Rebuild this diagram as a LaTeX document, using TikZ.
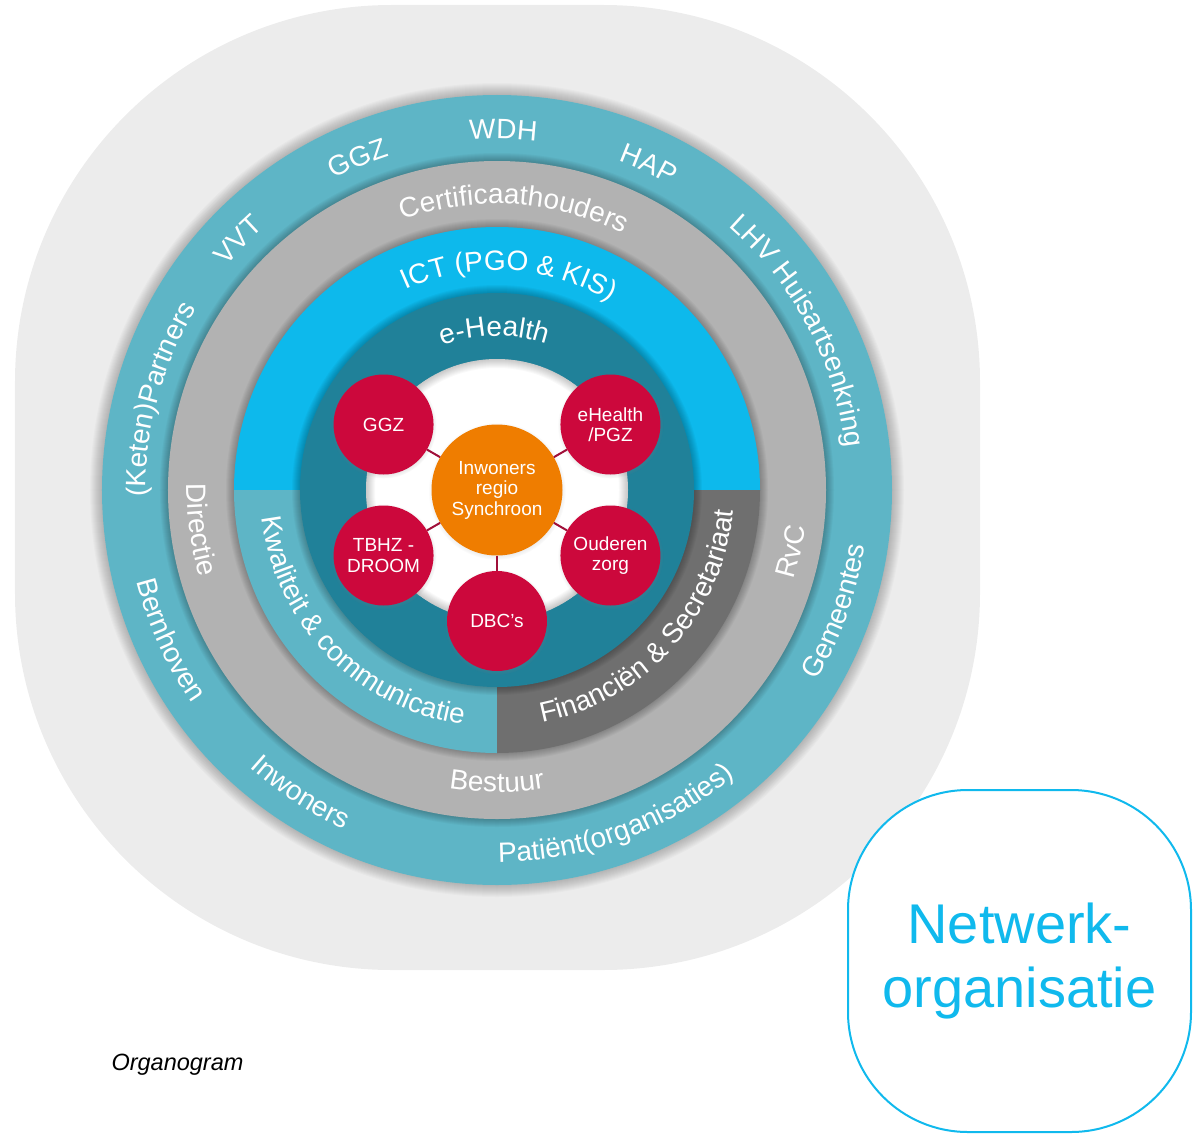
\documentclass[tikz,border=0pt]{standalone}
\usepackage{fontspec}
\setmainfont{Liberation Sans}
\usetikzlibrary{decorations.text,shadows}
\definecolor{tealring}{RGB}{94,181,198}
\definecolor{grayring}{RGB}{178,178,178}
\definecolor{ictblue}{RGB}{13,185,236}
\definecolor{darkteal}{RGB}{32,129,153}
\definecolor{fingray}{RGB}{111,111,111}
\definecolor{crimson}{RGB}{204,8,60}
\definecolor{orangec}{RGB}{239,125,0}
\definecolor{bggray}{RGB}{236,236,236}
\definecolor{cyanbox}{RGB}{16,185,237}
\definecolor{linered}{RGB}{160,16,58}
\newcommand\ringfont{\fontsize{28}{30}\selectfont}
\newcommand\cwlabel[3]{\path[decorate,decoration={text along path,text align=center,text color=white,text={|\ringfont|#3}}] ({#1+70}:#2pt) arc[start angle={#1+70},end angle={#1-70},radius=#2pt];}
\newcommand\ccwlabel[3]{\path[decorate,decoration={text along path,text align=center,text color=white,text={|\ringfont|#3}}] ({#1-70}:#2pt) arc[start angle={#1-70},end angle={#1+70},radius=#2pt];}
\newcommand\discshadow[3]{\foreach \k in {1,...,#2} \fill[black,opacity=#3] (0,0) circle[radius={#1+\k}];}
\tikzset{
  redc/.style={circle,fill=crimson,text=white,minimum size=100pt,inner sep=0pt,align=center,
    font=\fontsize{19}{20.5}\selectfont,
    circular drop shadow={shadow xshift=0pt,shadow yshift=-1pt,shadow scale=1.06,opacity=0.3}},
  orangec/.style={circle,fill=orangec,text=white,minimum size=131pt,inner sep=0pt,align=center,
    font=\fontsize{19}{20.5}\selectfont,
    circular drop shadow={shadow xshift=0pt,shadow yshift=-1pt,shadow scale=1.05,opacity=0.3}},
  link/.style={draw=linered,line width=2pt},
}
\begin{document}
\begin{tikzpicture}[x=1pt,y=1pt]
\useasboundingbox (-497,-643) rectangle (701,490);
% background
\fill[bggray,rounded corners=377pt] (-482,-480) rectangle (483,485);
% outer teal ring
\discshadow{395}{12}{0.018}
\fill[tealring] (0,0) circle[radius=395];
% gray ring
\discshadow{329}{8}{0.03}
\fill[grayring] (0,0) circle[radius=329];
% ICT ring
\discshadow{263}{8}{0.03}
\fill[ictblue] (263,0) arc[start angle=0,end angle=180,radius=263] -- cycle;
\fill[tealring] (0,0) -- (-263,0) arc[start angle=180,end angle=270,radius=263] -- cycle;
\fill[fingray] (0,0) -- (0,-263) arc[start angle=270,end angle=360,radius=263] -- cycle;
% e-Health ring
\discshadow{197}{8}{0.03}
\fill[darkteal] (0,0) circle[radius=197];
% white disc with inner shadow
\fill[white] (0,0) circle[radius=131];
\foreach \k in {1,...,9} \fill[black,opacity=0.022,even odd rule] (0,0) circle[radius=131] (0,0) circle[radius={131-\k}];
% inner circles
\node[orangec] (center) at (0,0) {Inwoners\\regio\\Synchroon};
\node[redc] (ggz) at (150:131) {GGZ};
\node[redc] (ehealth) at (30:131) {eHealth\\/PGZ};
\node[redc] (tbhz) at (210:131) {TBHZ -\\DROOM};
\node[redc] (ouderen) at (330:131) {Ouderen\\zorg};
\node[redc] (dbc) at (270:131) {DBC’s};
\draw[link] (center) -- (ggz);
\draw[link] (center) -- (ehealth);
\draw[link] (center) -- (tbhz);
\draw[link] (center) -- (ouderen);
\draw[link] (center) -- (dbc);
% ring labels: teal ring
\cwlabel{89}{351}{WDH}
\cwlabel{112.7}{351}{GGZ}
\cwlabel{136}{351}{VVT}
\cwlabel{165}{351}{(Keten)Partners}
\cwlabel{65}{351}{HAP}
\cwlabel{27.8}{351}{LHV Huisartsenkring}
\ccwlabel{-19.7}{372}{Gemeentes}
\ccwlabel{-70}{372}{Patiënt(organisaties)}
\ccwlabel{-123}{372}{Inwoners}
\ccwlabel{-155.4}{372}{Bernhoven}
% gray ring
\cwlabel{86.5}{286}{Certificaathouders}
\ccwlabel{-172.4}{310}{Directie}
\ccwlabel{-90}{302}{Bestuur}
\ccwlabel{-11.8}{310}{RvC}
% ICT ring
\cwlabel{86.7}{220}{ICT (PGO {\&} KIS)}
\ccwlabel{-135.8}{237}{Kwaliteit {\&} communicatie}
\ccwlabel{-42}{237}{Financiën {\&} Secretariaat}
% e-Health ring
\cwlabel{91}{154}{e-Health}
% caption and box
\node[anchor=base west,font=\itshape\fontsize{23.5}{27}\selectfont] (organo) at (-389,-580) {Organogram};
\node[draw=cyanbox,line width=2pt,fill=white,rounded corners=120pt,minimum width=343pt,minimum height=342pt,
      text=cyanbox,align=center,font=\fontsize{56}{64}\selectfont] (netwerk) at (522.5,-471) {Netwerk-\\organisatie};
\end{tikzpicture}
\end{document}
